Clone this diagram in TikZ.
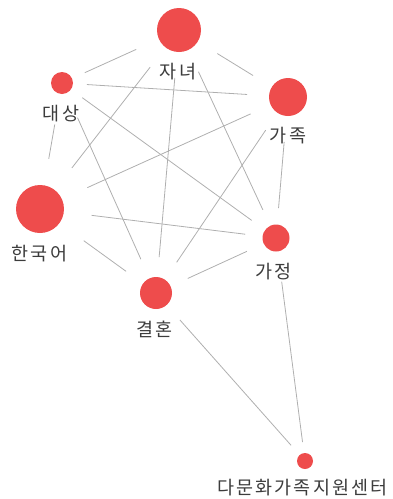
\documentclass[tikz,border=0pt]{standalone}
\usepackage{fontspec}
\newfontfamily\kr[LetterSpace=12]{Noto Sans CJK KR}
\definecolor{nodered}{RGB}{238,76,76}
\definecolor{edgegray}{RGB}{175,175,175}
\definecolor{labelgray}{RGB}{60,60,60}
\tikzset{
  dot/.style={circle, fill=nodered, draw=none, inner sep=0pt, minimum size=#1},
  lbl/.style={font=\kr\fontsize{18.5}{20}\selectfont, text=labelgray, inner sep=0pt},
  edge/.style={draw=edgegray, line width=0.8pt},
}
\begin{document}
\begin{tikzpicture}[x=1pt, y=-1pt]
\useasboundingbox (0,0) rectangle (393,499);
% circles
\node[dot=44pt] (janyeo) at (179,30) {};
\node[dot=22pt] (daesang) at (62,83) {};
\node[dot=38pt] (gajok) at (288,97) {};
\node[dot=48pt] (hangugeo) at (40,209) {};
\node[dot=27pt] (gajeong) at (276,238) {};
\node[dot=32pt] (gyeolhon) at (156,293) {};
\node[dot=16pt] (center) at (305,461) {};
% labels
\node[lbl] (l-janyeo) at (178,72) {자녀};
\node[lbl] (l-daesang) at (61,114) {대상};
\node[lbl] (l-gajok) at (288,135.5) {가족};
\node[lbl] (l-hangugeo) at (39.5,254) {한국어};
\node[lbl] (l-gajeong) at (273.5,272) {가정};
\node[lbl] (l-gyeolhon) at (154.5,329) {결혼};
\node[lbl] (l-center) at (302.5,488) {다문화가족지원센터};
% edges
\draw[edge, shorten <=25pt, shorten >=47pt] (daesang.center) -- (janyeo.center);
\draw[edge, shorten <=25pt, shorten >=41pt] (daesang.center) -- (gajok.center);
\draw[edge, shorten <=25pt, shorten >=30pt] (daesang.center) -- (gajeong.center);
\draw[edge, shorten <=38pt, shorten >=37pt] (daesang.center) -- (gyeolhon.center);
\draw[edge, shorten <=42pt, shorten >=51pt] (daesang.center) -- (hangugeo.center);
\draw[edge, shorten <=45pt, shorten >=41pt] (janyeo.center) -- (gajok.center);
\draw[edge, shorten <=47pt, shorten >=52pt] (janyeo.center) -- (hangugeo.center);
\draw[edge, shorten <=48pt, shorten >=36pt] (janyeo.center) -- (gyeolhon.center);
\draw[edge, shorten <=46pt, shorten >=31pt] (janyeo.center) -- (gajeong.center);
\draw[edge, shorten <=41pt, shorten >=52pt] (gajok.center) -- (hangugeo.center);
\draw[edge, shorten <=40pt, shorten >=37pt] (gajok.center) -- (gyeolhon.center);
\draw[edge, shorten <=45pt, shorten >=30pt] (gajok.center) -- (gajeong.center);
\draw[edge, shorten <=52pt, shorten >=31pt] (hangugeo.center) -- (gajeong.center);
\draw[edge, shorten <=54pt, shorten >=37pt] (hangugeo.center) -- (gyeolhon.center);
\draw[edge, shorten <=35pt, shorten >=32pt] (gyeolhon.center) -- (gajeong.center);
\draw[edge, shorten <=36pt, shorten >=21pt] (gyeolhon.center) -- (center.center);
\draw[edge, shorten <=44pt, shorten >=19pt] (gajeong.center) -- (center.center);
\end{tikzpicture}
\end{document}
